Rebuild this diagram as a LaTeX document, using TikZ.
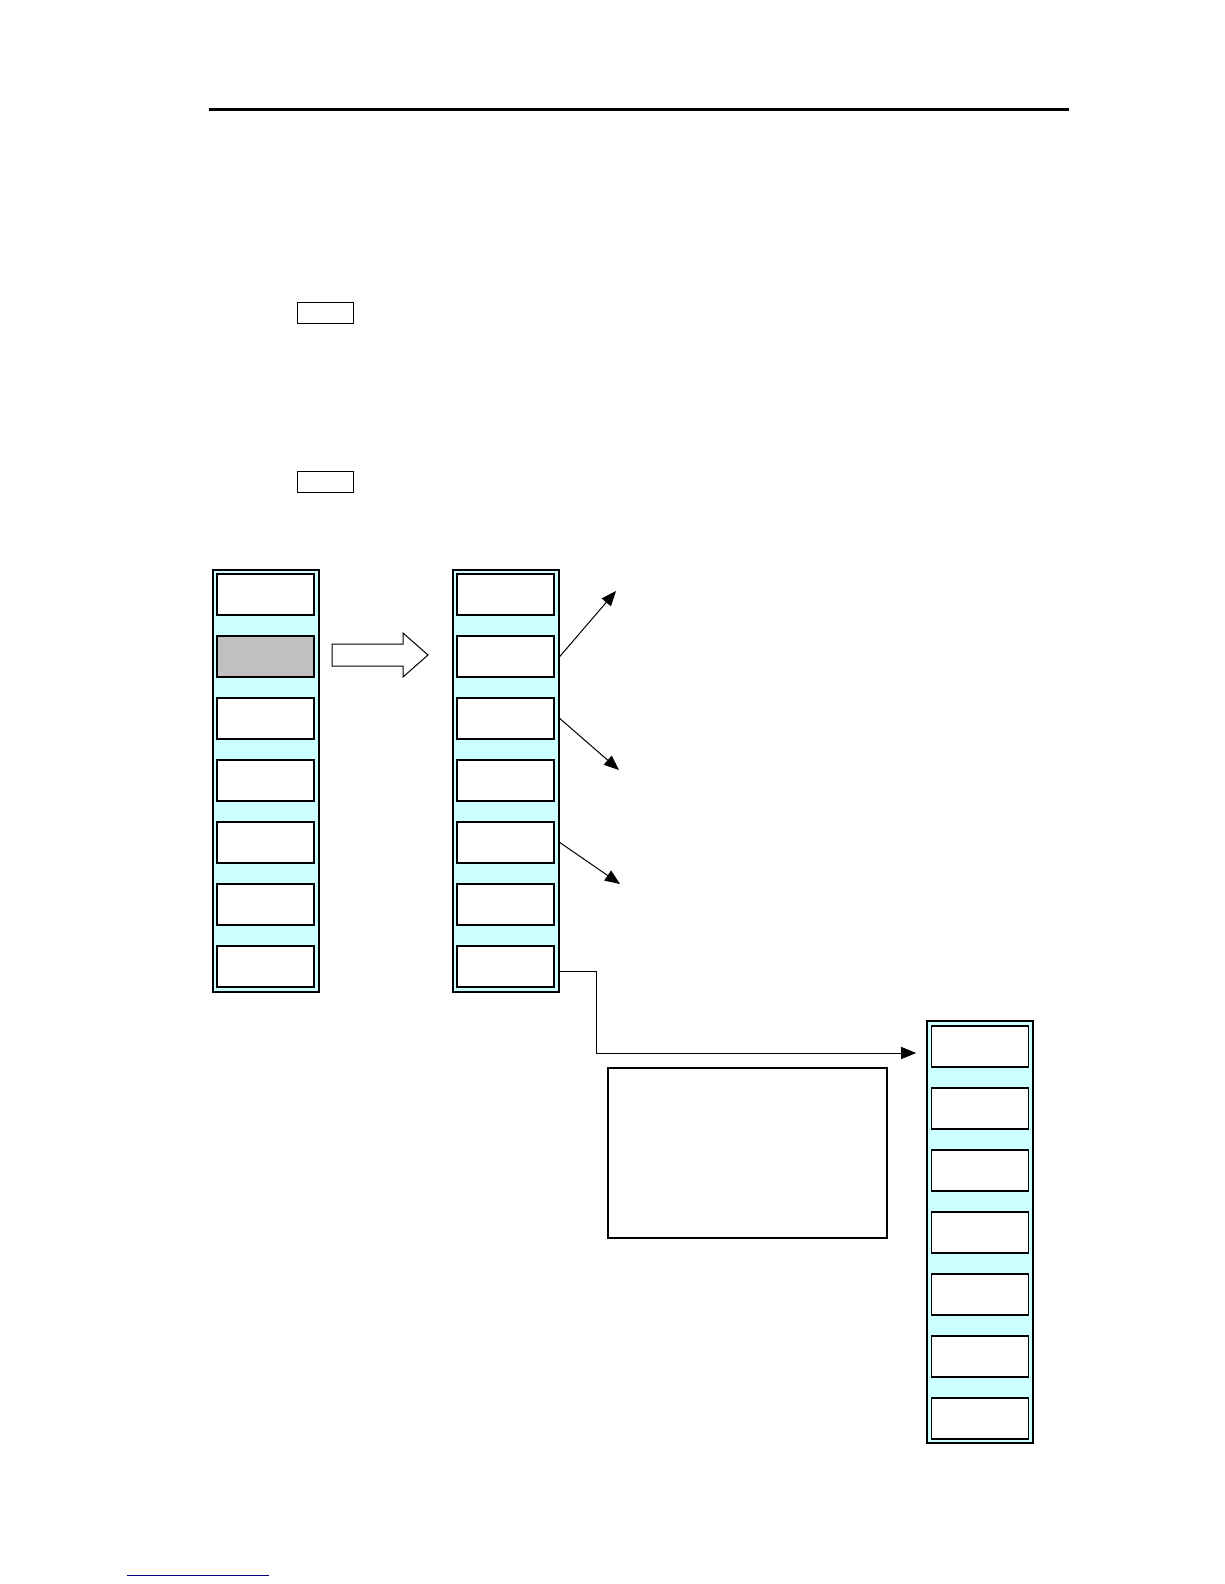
\documentclass[tikz,border=0pt]{standalone}
\usetikzlibrary{arrows.meta}
\definecolor{menucyan}{HTML}{CCFFFF}
\definecolor{keygray}{HTML}{C0C0C0}
\definecolor{linknavy}{HTML}{000080}
\begin{document}
\begin{tikzpicture}[x=1pt,y=-1pt,
	menu/.style={draw, line width=1.6pt, fill=menucyan, minimum width=106pt, minimum height=422pt, inner sep=0pt},
	key/.style={draw, line width=1.2pt, minimum width=97pt, minimum height=41pt, inner sep=0pt},
	tag/.style={draw, line width=1pt, minimum width=56pt, minimum height=21pt, inner sep=0pt},
	pointer/.style={line width=1pt, -{Triangle[length=15pt,width=12pt]}}]
		\useasboundingbox (0,0) rectangle (1224,1584);
		%draw header rule and key tags
		\draw [line width=3pt] (209,110) -- (1069,110);
		\node[tag] (tagone) at (325,312.5) {};
		\node[tag] (tagtwo) at (325,481.5) {};
		%draw menu columns
		\node[menu] (menua) at (266,781) {};
		\node[menu] (menub) at (506,781) {};
		\node[menu] (menuc) at (980,1232) {};
		\foreach \i/\c in {1/white,2/keygray,3/white,4/white,5/white,6/white,7/white}
		{
			\node[key, fill=\c] (a\i) at (265.5,{594.5+62*(\i-1)}) {};
			\node[key, fill=white] (b\i) at (505.5,{594.5+62*(\i-1)}) {};
			\node[key, fill=white] (c\i) at (980,{1046.5+62*(\i-1)}) {};
		}
		%draw block arrow
		\draw [line width=1pt, fill=white] (332,644) -- (403,644) -- (403,633) -- (428,655)
			-- (403,677) -- (403,666) -- (332,666) -- cycle;
		%draw pointers
		\coordinate (tipone) at (616,591);
		\coordinate (tiptwo) at (619,770);
		\coordinate (tipthree) at (620,884);
		\draw [pointer] (b2 -| menub.east) -- (tipone);
		\draw [pointer] (b3 -| menub.east) -- (tiptwo);
		\draw [pointer] (b5 -| menub.east) -- (tipthree);
		\coordinate (bend) at ([yshift=-4.5pt]b7 -| menub.east);
		\coordinate (tipfour) at ([xshift=-10pt,yshift=-6.5pt]c1 -| menuc.west);
		\draw [pointer] (bend) -- ++(37,0) |- (tipfour);
		%draw note box
		\node[draw, line width=1.5pt, fill=white, minimum width=279pt, minimum height=170pt] (note) at (747.5,1153) {};
		%draw link underline
		\draw [linknavy, line width=1pt] (127,1575) -- (269,1575);
	\end{tikzpicture}
\end{document}
